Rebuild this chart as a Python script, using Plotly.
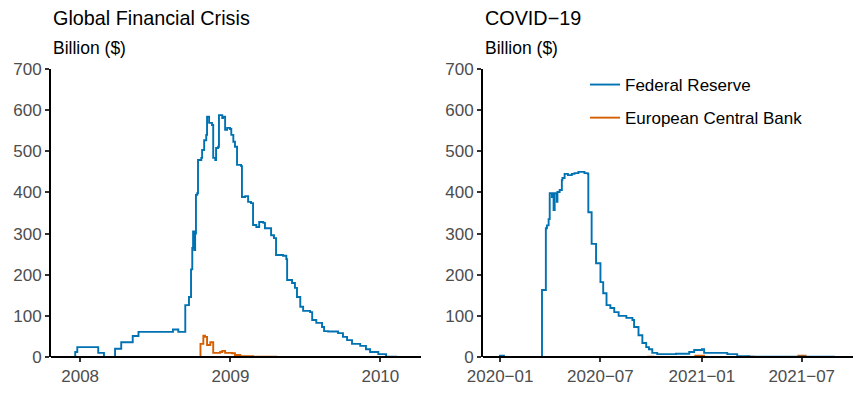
import plotly.graph_objects as go
from plotly.subplots import make_subplots

# ---------------- Data (billions of USD), step series ----------------
gfc_fed_dates = [
    "2007-12-17", "2007-12-20", "2007-12-25", "2008-02-14", "2008-02-28", "2008-03-26",
    "2008-04-10", "2008-05-08", "2008-05-22", "2008-08-14", "2008-08-27", "2008-09-13",
    "2008-09-22", "2008-09-27", "2008-09-30", "2008-10-02", "2008-10-05", "2008-10-07",
    "2008-10-09", "2008-10-12", "2008-10-14", "2008-10-22", "2008-10-24", "2008-10-29",
    "2008-11-03", "2008-11-05", "2008-11-10", "2008-11-17", "2008-11-20", "2008-11-25",
    "2008-11-27", "2008-12-02", "2008-12-04", "2008-12-12", "2008-12-14", "2008-12-19",
    "2008-12-24", "2008-12-31", "2009-01-03", "2009-01-08", "2009-01-12", "2009-01-17",
    "2009-01-27", "2009-01-29", "2009-02-06", "2009-02-13", "2009-02-20", "2009-02-25",
    "2009-03-05", "2009-03-12", "2009-03-22", "2009-03-26", "2009-04-10", "2009-04-17",
    "2009-04-22", "2009-05-09", "2009-05-17", "2009-05-19", "2009-05-31", "2009-06-07",
    "2009-06-12", "2009-06-20", "2009-06-27", "2009-07-14", "2009-07-19", "2009-07-29",
    "2009-08-12", "2009-08-17", "2009-08-27", "2009-09-20", "2009-10-02", "2009-10-12",
    "2009-10-24", "2009-11-13", "2009-11-27", "2009-12-07", "2009-12-27", "2010-01-15",
    "2010-02-11",
]
gfc_fed_values = [
    0, 12, 24, 10, 0, 20,
    36, 51, 61, 67, 61, 126,
    146, 213, 265, 305, 260, 300,
    394, 398, 479, 484, 503, 527,
    540, 584, 569, 564, 484, 479,
    508, 511, 588, 581, 584, 552,
    557, 554, 540, 523, 511, 467,
    464, 389, 391, 377, 374, 321,
    316, 328, 326, 313, 296, 289,
    248, 246, 238, 187, 180, 168,
    146, 122, 112, 109, 90, 83,
    73, 63, 62, 58, 49, 41,
    32, 27, 19, 12, 7, 1,
    1,
]

gfc_ecb_dates = [
    "2008-10-19", "2008-10-20", "2008-10-27", "2008-10-31", "2008-11-05", "2008-11-13",
    "2008-11-20", "2008-12-07", "2008-12-12", "2008-12-19", "2009-01-05", "2009-01-12",
    "2009-01-25", "2009-02-25", "2009-04-25",
]
gfc_ecb_values = [0, 32, 52, 49, 29, 36, 10, 12, 15, 10, 9, 5, 2, 1, 1]

covid_fed_dates = [
    "2019-12-30", "2020-01-08", "2020-03-17", "2020-03-24", "2020-03-26", "2020-03-29",
    "2020-03-31", "2020-04-04", "2020-04-05", "2020-04-07", "2020-04-09", "2020-04-13",
    "2020-04-14", "2020-04-18", "2020-04-22", "2020-04-23", "2020-04-27", "2020-05-03",
    "2020-05-10", "2020-05-15", "2020-05-22", "2020-06-02", "2020-06-08", "2020-06-09",
    "2020-06-15", "2020-06-23", "2020-07-01", "2020-07-06", "2020-07-12", "2020-07-19",
    "2020-07-26", "2020-08-03", "2020-08-17", "2020-08-28", "2020-08-31", "2020-09-08",
    "2020-09-15", "2020-09-22", "2020-09-27", "2020-10-03", "2020-10-12", "2020-11-15",
    "2020-12-09", "2020-12-18", "2021-01-01", "2021-01-05", "2021-02-16", "2021-03-06",
    "2021-03-28", "2021-08-30",
]
covid_fed_values = [
    3, 0, 163, 313, 320, 335,
    398, 389, 398, 357, 398, 377,
    401, 406, 430, 435, 445, 442,
    445, 447, 450, 447, 445, 352,
    275, 228, 182, 155, 126, 119,
    109, 100, 95, 90, 73, 53,
    34, 24, 19, 10, 7, 8,
    12, 17, 19, 10, 7, 2,
    1, 1,
]

covid_ecb_dates = [
    "2020-01-01", "2020-09-25", "2020-10-05", "2020-12-20", "2021-01-05",
    "2021-03-25", "2021-04-05", "2021-06-25", "2021-07-08", "2021-09-15",
]
covid_ecb_values = [0, 1, 0, 3, 0, 1, 0, 3, 0, 0]

gfc_tick_vals = ["2008-01-01", "2009-01-01", "2010-01-01"]
gfc_tick_text = ["2008", "2009", "2010"]
covid_tick_vals = ["2020-01-01", "2020-07-01", "2021-01-01", "2021-07-01"]
covid_tick_text = ["2020\u221201", "2020\u221207", "2021\u221201", "2021\u221207"]
y_ticks = [0, 100, 200, 300, 400, 500, 600, 700]

FED_COLOR = "#0072B2"
ECB_COLOR = "#D55E00"
FONT = "Liberation Sans, Arial, sans-serif"

fig = make_subplots(rows=1, cols=2)

fig.add_trace(go.Scatter(x=gfc_fed_dates, y=gfc_fed_values, mode="lines", line_shape="hv",
                         line=dict(color=FED_COLOR, width=1.9), name="Federal Reserve",
                         showlegend=False), row=1, col=1)
fig.add_trace(go.Scatter(x=gfc_ecb_dates, y=gfc_ecb_values, mode="lines", line_shape="hv",
                         line=dict(color=ECB_COLOR, width=1.9), name="European Central Bank",
                         showlegend=False), row=1, col=1)
fig.add_trace(go.Scatter(x=covid_ecb_dates, y=covid_ecb_values, mode="lines", line_shape="hv",
                         line=dict(color=ECB_COLOR, width=1.9), name="European Central Bank",
                         legendgroup="ecb", legendrank=2), row=1, col=2)
fig.add_trace(go.Scatter(x=covid_fed_dates, y=covid_fed_values, mode="lines", line_shape="hv",
                         line=dict(color=FED_COLOR, width=1.9), name="Federal Reserve",
                         legendgroup="fed", legendrank=1), row=1, col=2)

tickfont = dict(family=FONT, size=17, color="#4d4d4d")
x_common = dict(showgrid=False, automargin=False, showline=False,
                zeroline=False, ticks="outside", ticklen=4, tickwidth=1.5,
                tickcolor="#333333", tickfont=tickfont)
y_common = dict(showgrid=False, automargin=False, showline=True, linecolor="black",
                linewidth=2, zeroline=True, zerolinecolor="black", zerolinewidth=2,
                ticks="outside", ticklen=4, tickwidth=1.5, tickcolor="#333333",
                tickfont=tickfont)

fig.update_xaxes(x_common)
fig.update_yaxes(y_common)
try:
    fig.update_yaxes(zerolinelayer="above traces")
except Exception:
    pass

ydom = [39 / 396, 327 / 396]
fig.update_layout(
    xaxis=dict(domain=[51 / 864, 421 / 864], range=["2007-10-22", "2010-04-10"],
               tickvals=gfc_tick_vals, ticktext=gfc_tick_text),
    xaxis2=dict(domain=[483 / 864, 853 / 864], range=["2019-12-01", "2021-10-02"],
                tickvals=covid_tick_vals, ticktext=covid_tick_text),
    yaxis=dict(domain=ydom, range=[0, 700], tickvals=y_ticks),
    yaxis2=dict(domain=ydom, range=[0, 700], tickvals=y_ticks),
)

annos = [
    ("Global Financial Crisis", 51, 18, 19.8),
    ("Billion ($)", 51, 48, 17.5),
    ("COVID\u221219", 483, 18, 19.8),
    ("Billion ($)", 483, 48, 17.5),
]
for text, px, py, size in annos:
    fig.add_annotation(text=text, xref="paper", yref="paper", x=px / 864, y=1 - py / 396,
                       xanchor="left", yanchor="middle", showarrow=False,
                       font=dict(family=FONT, size=size, color="black"))

fig.update_layout(
    width=864, height=396,
    margin=dict(l=0, r=0, t=0, b=0),
    paper_bgcolor="white", plot_bgcolor="white",
    font=dict(family=FONT, color="black"),
    legend=dict(x=585 / 864, y=1 - 67 / 396, xanchor="left", yanchor="top",
                bgcolor="rgba(0,0,0,0)", traceorder="grouped", tracegroupgap=8,
                font=dict(family=FONT, size=17, color="black")),
    showlegend=True,
)

fig.write_html("out.html", config={"displayModeBar": False},
               post_script="document.body.style.margin='0';")
